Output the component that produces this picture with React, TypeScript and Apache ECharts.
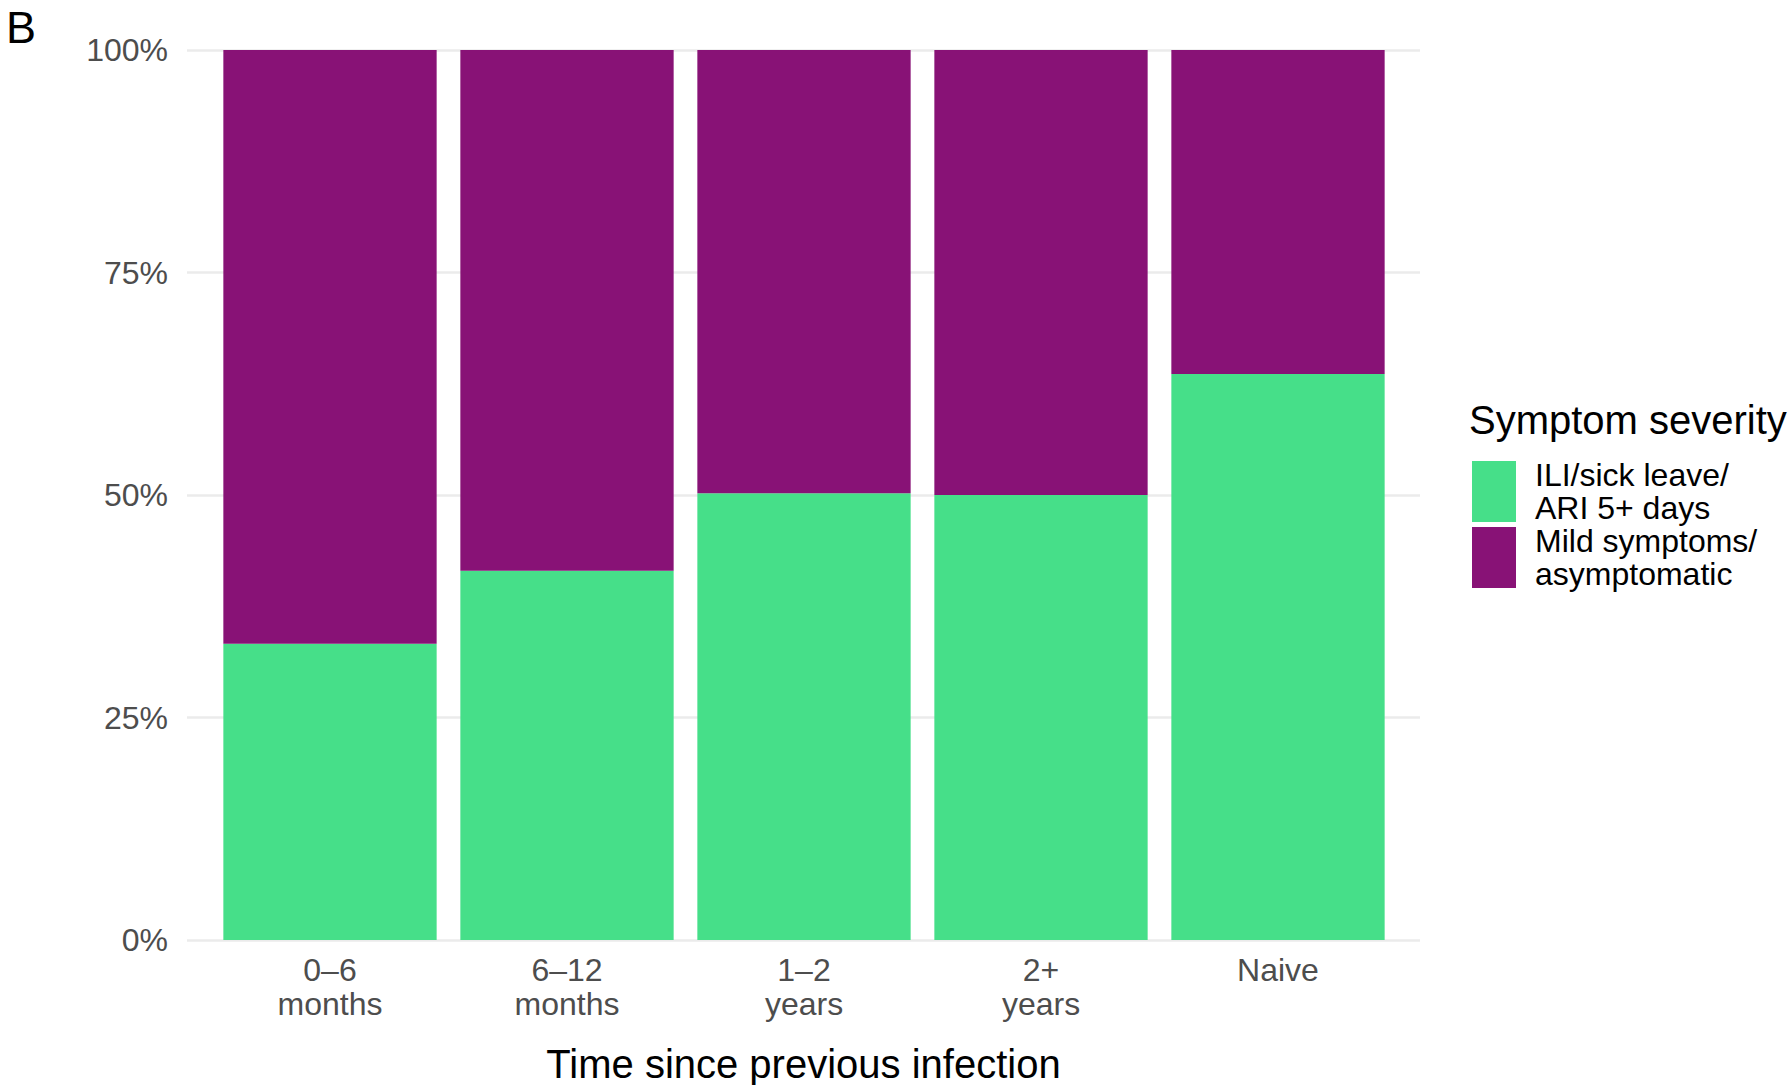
import React, { useEffect, useRef } from "react";
import * as echarts from "echarts";

const categories = ["0–6\nmonths", "6–12\nmonths", "1–2\nyears", "2+\nyears", "Naive"];
const severeShare = [33.3, 41.5, 50.2, 50.0, 63.6];
const mildShare = [66.7, 58.5, 49.8, 50.0, 36.4];
const yTicks = [0, 25, 50, 75, 100];
const seriesNames = ["ILI/sick leave/\nARI 5+ days", "Mild symptoms/\nasymptomatic"];
const colors = ["#46DF89", "#881276"];

export default function App() {
  const ref = useRef<HTMLDivElement>(null);
  useEffect(() => {
    if (!ref.current) return;
    const chart = echarts.init(ref.current, undefined, { renderer: "svg" });
    const font = "Liberation Sans, Arial, Helvetica, sans-serif";
    chart.setOption({
      animation: false,
      backgroundColor: "#ffffff",
      textStyle: { fontFamily: font },
      grid: [
        { left: 187, right: 372, top: 50, bottom: 145, containLabel: false },
        { left: 211.5, right: 395.5, top: 50, bottom: 145, containLabel: false },
      ],
      xAxis: [
        { gridIndex: 0, type: "value", show: false, min: 0, max: 1 },
        {
          gridIndex: 1,
          type: "category",
          data: categories,
          axisLine: { show: false },
          axisTick: { show: false },
          axisLabel: {
            fontFamily: font,
            fontSize: 32,
            lineHeight: 34,
            color: "#4D4D4D",
            margin: 13,
            interval: 0,
          },
        },
      ],
      yAxis: [
        {
          gridIndex: 0,
          type: "value",
          min: yTicks[0],
          max: yTicks[yTicks.length - 1],
          interval: 25,
          axisLine: { show: false },
          axisTick: { show: false },
          splitLine: { show: true, lineStyle: { color: "#EBEBEB", width: 2.5 } },
          axisLabel: {
            fontFamily: font,
            fontSize: 32,
            color: "#4D4D4D",
            margin: 19,
            formatter: (v: number) => `${v}%`,
          },
        },
        { gridIndex: 1, type: "value", min: 0, max: 100, show: false },
      ],
      legend: {
        orient: "vertical",
        left: 1472,
        top: 458.5,
        padding: 0,
        itemWidth: 44,
        itemHeight: 61,
        itemGap: 0,
        icon: "rect",
        selectedMode: false,
        data: seriesNames,
        textStyle: {
          fontFamily: font,
          fontSize: 32,
          lineHeight: 33,
          color: "#000000",
          padding: [0, 0, 0, 14],
        },
      },
      graphic: [
        {
          type: "text",
          x: 6,
          y: 27.5,
          style: {
            text: "B",
            fontFamily: font,
            fontSize: 45,
            fill: "#000000",
            verticalAlign: "middle",
          },
        },
        {
          type: "text",
          x: 1469,
          y: 420,
          style: {
            text: "Symptom severity",
            fontFamily: font,
            fontSize: 40,
            fill: "#000000",
            verticalAlign: "middle",
          },
        },
        {
          type: "text",
          x: 803.5,
          y: 1064,
          style: {
            text: "Time since previous infection",
            fontFamily: font,
            fontSize: 40,
            fill: "#000000",
            align: "center",
            verticalAlign: "middle",
          },
        },
      ],
      series: [
        {
          name: seriesNames[0],
          type: "bar",
          xAxisIndex: 1,
          yAxisIndex: 1,
          stack: "total",
          barCategoryGap: "10%",
          data: severeShare,
          itemStyle: { color: colors[0] },
        },
        {
          name: seriesNames[1],
          type: "bar",
          xAxisIndex: 1,
          yAxisIndex: 1,
          stack: "total",
          barCategoryGap: "10%",
          data: mildShare,
          itemStyle: { color: colors[1] },
        },
      ],
    });
    return () => chart.dispose();
  }, []);
  return (
    <div
      ref={ref}
      style={{ position: "fixed", left: 0, top: 0, width: 1792, height: 1085 }}
    />
  );
}
